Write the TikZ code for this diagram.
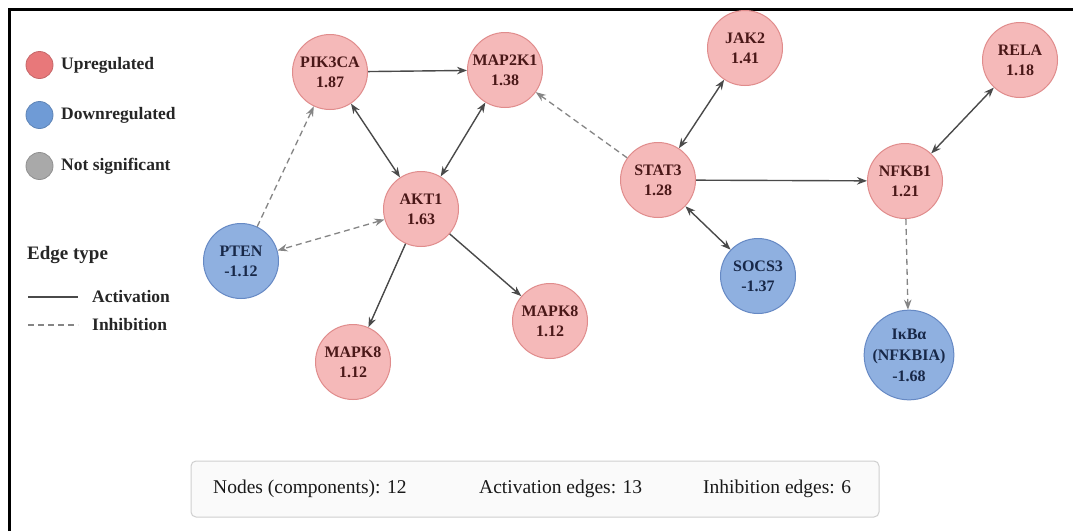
\documentclass[tikz,border=0pt]{standalone}
\usepackage{fontspec}
\setmainfont{Liberation Serif}
\usetikzlibrary{arrows.meta}
\definecolor{upfill}{HTML}{F5B9B9}
\definecolor{upline}{HTML}{E08C8C}
\definecolor{uptext}{HTML}{4A1818}
\definecolor{downfill}{HTML}{8FB0E0}
\definecolor{downline}{HTML}{6689C4}
\definecolor{downtext}{HTML}{182848}
\definecolor{keyred}{HTML}{E8787A}
\definecolor{keyblue}{HTML}{6F9BD6}
\definecolor{keygray}{HTML}{A9A9A9}
\definecolor{edgegray}{HTML}{4A4A4A}
\definecolor{inhgray}{HTML}{858585}
\definecolor{boxline}{HTML}{CFCFCF}
\definecolor{boxfill}{HTML}{FAFAFA}

\begin{document}
\begin{tikzpicture}[%
x=1pt, y=-1pt,
>={Stealth[length=10pt,width=7.5pt]},
gene/.style={circle, draw, line width=1pt, minimum size=75pt, inner sep=0pt, align=center,
  font=\fontsize{16}{20}\selectfont\bfseries},
up/.style={gene, fill=upfill, draw=upline, text=uptext},
down/.style={gene, fill=downfill, draw=downline, text=downtext},
act/.style={draw=edgegray, line width=1.4pt},
inh/.style={draw=inhgray, line width=1.3pt, dash pattern=on 6pt off 4pt},
keydot/.style={circle, minimum size=27pt, inner sep=0pt, line width=0.8pt},
keytext/.style={anchor=west, inner sep=0pt, text=black!85, font=\fontsize{17.5}{20}\selectfont\bfseries},
sumtext/.style={anchor=west, inner sep=0pt, text=black!90, font=\fontsize{19.5}{22}\selectfont},
]
\useasboundingbox (0,0) rectangle (1073,531);
\fill[white] (0,0) rectangle (1073,531);
%% frame;
\draw[line width=3pt] (9.6,531) -- (9.6,9.6) -- (1073,9.6);
%% legend;
\node[keydot, fill=keyred, draw=keyred!85!black] (upkey) at (39.5,65) {};
\node[keytext] (uplabel) at (61,65) {Upregulated};
\node[keydot, fill=keyblue, draw=keyblue!85!black] (downkey) at (39.5,115) {};
\node[keytext] (downlabel) at (61,115) {Downregulated};
\node[keydot, fill=keygray, draw=keygray!85!black] (nskey) at (39.5,166) {};
\node[keytext] (nslabel) at (61,166) {Not significant};
\node[keytext, font=\fontsize{19}{22}\selectfont\bfseries] (edgetitle) at (27,255) {Edge type};
\coordinate (acta) at (28,297);
\coordinate (actb) at (78,297);
\draw[act] (acta) -- (actb);
\node[keytext] (actlabel) at (92,297) {Activation};
\coordinate (inha) at (28,325);
\coordinate (inhb) at (78,325);
\draw[inh] (inha) -- (inhb);
\node[keytext] (inhlabel) at (92,325) {Inhibition};
%% genes;
\node[up] (pik3ca) at (330,72) {PIK3CA\\1.87};
\node[up] (map2k1) at (505,70) {MAP2K1\\1.38};
\node[up] (akt1) at (421,209) {AKT1\\1.63};
\node[down] (pten) at (241,261) {PTEN\\-1.12};
\node[up] (mapk8a) at (353,362) {MAPK8\\1.12};
\node[up] (mapk8b) at (550,321) {MAPK8\\1.12};
\node[up] (stat3) at (658,180) {STAT3\\1.28};
\node[up] (jak2) at (745,48) {JAK2\\1.41};
\node[down] (socs3) at (758,276) {SOCS3\\-1.37};
\node[up] (nfkb1) at (905,181) {NFKB1\\1.21};
\node[up] (rela) at (1020,60) {RELA\\1.18};
\node[down, minimum size=86pt, font=\fontsize{16}{21}\selectfont\bfseries] (ikba) at (909,355) {IκBα\\(NFKBIA)\\-1.68};
%% edges;
\draw[act,->] (pik3ca) -- (map2k1);
\draw[act,<->] (pik3ca) -- (akt1);
\draw[act,<->] (map2k1) -- (akt1);
\draw[inh,->] (pten) -- (pik3ca);
\draw[inh,<->] (akt1) -- (pten);
\draw[act,->] (akt1) -- (mapk8a);
\draw[act,->] (akt1) -- (mapk8b);
\draw[inh,->] (stat3) -- (map2k1);
\draw[act,<->] (stat3) -- (jak2);
\draw[act,<->] (stat3) -- (socs3);
\draw[act,->] (stat3) -- (nfkb1);
\draw[act,<->] (nfkb1) -- (rela);
\draw[inh,->] (nfkb1) -- (ikba);
%% summary;
\draw[boxline, fill=boxfill, line width=1pt, rounded corners=5pt] (191,461) rectangle (879,517);
\node[sumtext] (nodecount) at (213,489) {Nodes (components): 12};
\node[sumtext] (actcount) at (479,489) {Activation edges: 13};
\node[sumtext] (inhcount) at (703,489) {Inhibition edges: 6};
\end{tikzpicture}
\end{document}
